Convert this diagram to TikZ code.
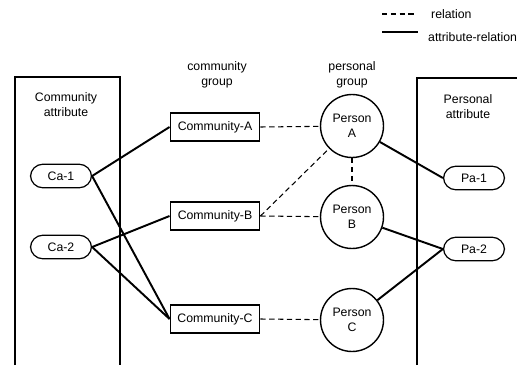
\documentclass[tikz,border=0pt]{standalone}
\usepackage{fontspec}
\setmainfont{Liberation Sans}
\usepackage{tikz}
\usetikzlibrary{positioning}
\tikzstyle{group} = [
    rectangle, minimum width=1.78cm, minimum height=0.56cm, inner sep=1pt,
    text centered, draw=black, line width=1.1pt, font=\fontsize{7}{8}\selectfont
]
\tikzstyle{person} = [
    circle, minimum size=1.26cm, inner sep=0pt, align=center,
    draw=black, line width=0.8pt, font=\fontsize{7}{8.5}\selectfont
]
\tikzstyle{attr} = [
    rectangle, rounded corners=7pt, minimum width=1.22cm, minimum height=0.47cm,
    inner sep=1pt, draw=black, line width=0.7pt, font=\fontsize{7}{8}\selectfont
]
\tikzstyle{label} = [align=center, font=\fontsize{7}{8.5}\selectfont]
\tikzstyle{frame} = [draw=black, line width=0.8pt]
\tikzstyle{attrline} = [line width=1.1pt]
\tikzstyle{relation} = [dashed, dash pattern=on 3pt off 2pt, line width=0.6pt]

\begin{document}
\begin{tikzpicture}[x=0.02cm, y=-0.02cm]

    \useasboundingbox (0,0) rectangle (517,365);

    % Frames
    \draw[frame] (15,365) -- (15,77) -- (120,77) -- (120,365);
    \draw[frame] (417,365) -- (417,78) -- (517,78);
    \node[label] (cattr) at (66,105) {Community\\attribute};
    \node[label] (pattr) at (468,107) {Personal\\attribute};

    % Column titles
    \node[label] (cgroup) at (217,75) {community\\group};
    \node[label] (pgroup) at (352,75) {personal\\group};

    % Community attributes
    \node[attr] (ca1) at (61,176) {Ca-1};
    \node[attr] (ca2) at (61,247) {Ca-2};

    % Community groups
    \node[group] (cA) at (215,127) {Community-A};
    \node[group] (cB) at (215,216) {Community-B};
    \node[group] (cC) at (215,319) {Community-C};

    % Persons
    \node[person] (pA) at (352,126) {Person\\A};
    \node[person] (pB) at (352,217) {Person\\B};
    \node[person] (pC) at (352,320) {Person\\C};

    % Personal attributes
    \node[attr] (pa1) at (474,178) {Pa-1};
    \node[attr] (pa2) at (474,249) {Pa-2};

    % Attribute relations
    \draw[attrline] (ca1.east) -- (cA.west);
    \draw[attrline] (ca1.east) -- (cC.west);
    \draw[attrline] (ca2.east) -- (cB.west);
    \draw[attrline] (ca2.east) -- (cC.west);
    \draw[attrline] (pA) -- (pa1.west);
    \draw[attrline] (pB) -- (pa2.west);
    \draw[attrline] (pC) -- (pa2.west);

    % Relations
    \draw[relation] (cA.east) -- (pA);
    \draw[relation] (cB.east) -- (pB);
    \draw[relation] (cB.east) -- (pA);
    \draw[relation] (pA) -- (pB);
    \draw[relation] (cC.east) -- (pC);

    % Legend
    \coordinate (l1a) at (382,14);
    \coordinate (l1b) at (415,14);
    \coordinate (l2a) at (382,32);
    \coordinate (l2b) at (418,32);
    \node[label, anchor=west] (lrel) at (425,14) {relation};
    \node[label, anchor=west] (lattr) at (422,37) {attribute-relation};
    \draw[relation] (l1a) -- (l1b);
    \draw[line width=0.8pt] (l2a) -- (l2b);

\end{tikzpicture}
\end{document}
